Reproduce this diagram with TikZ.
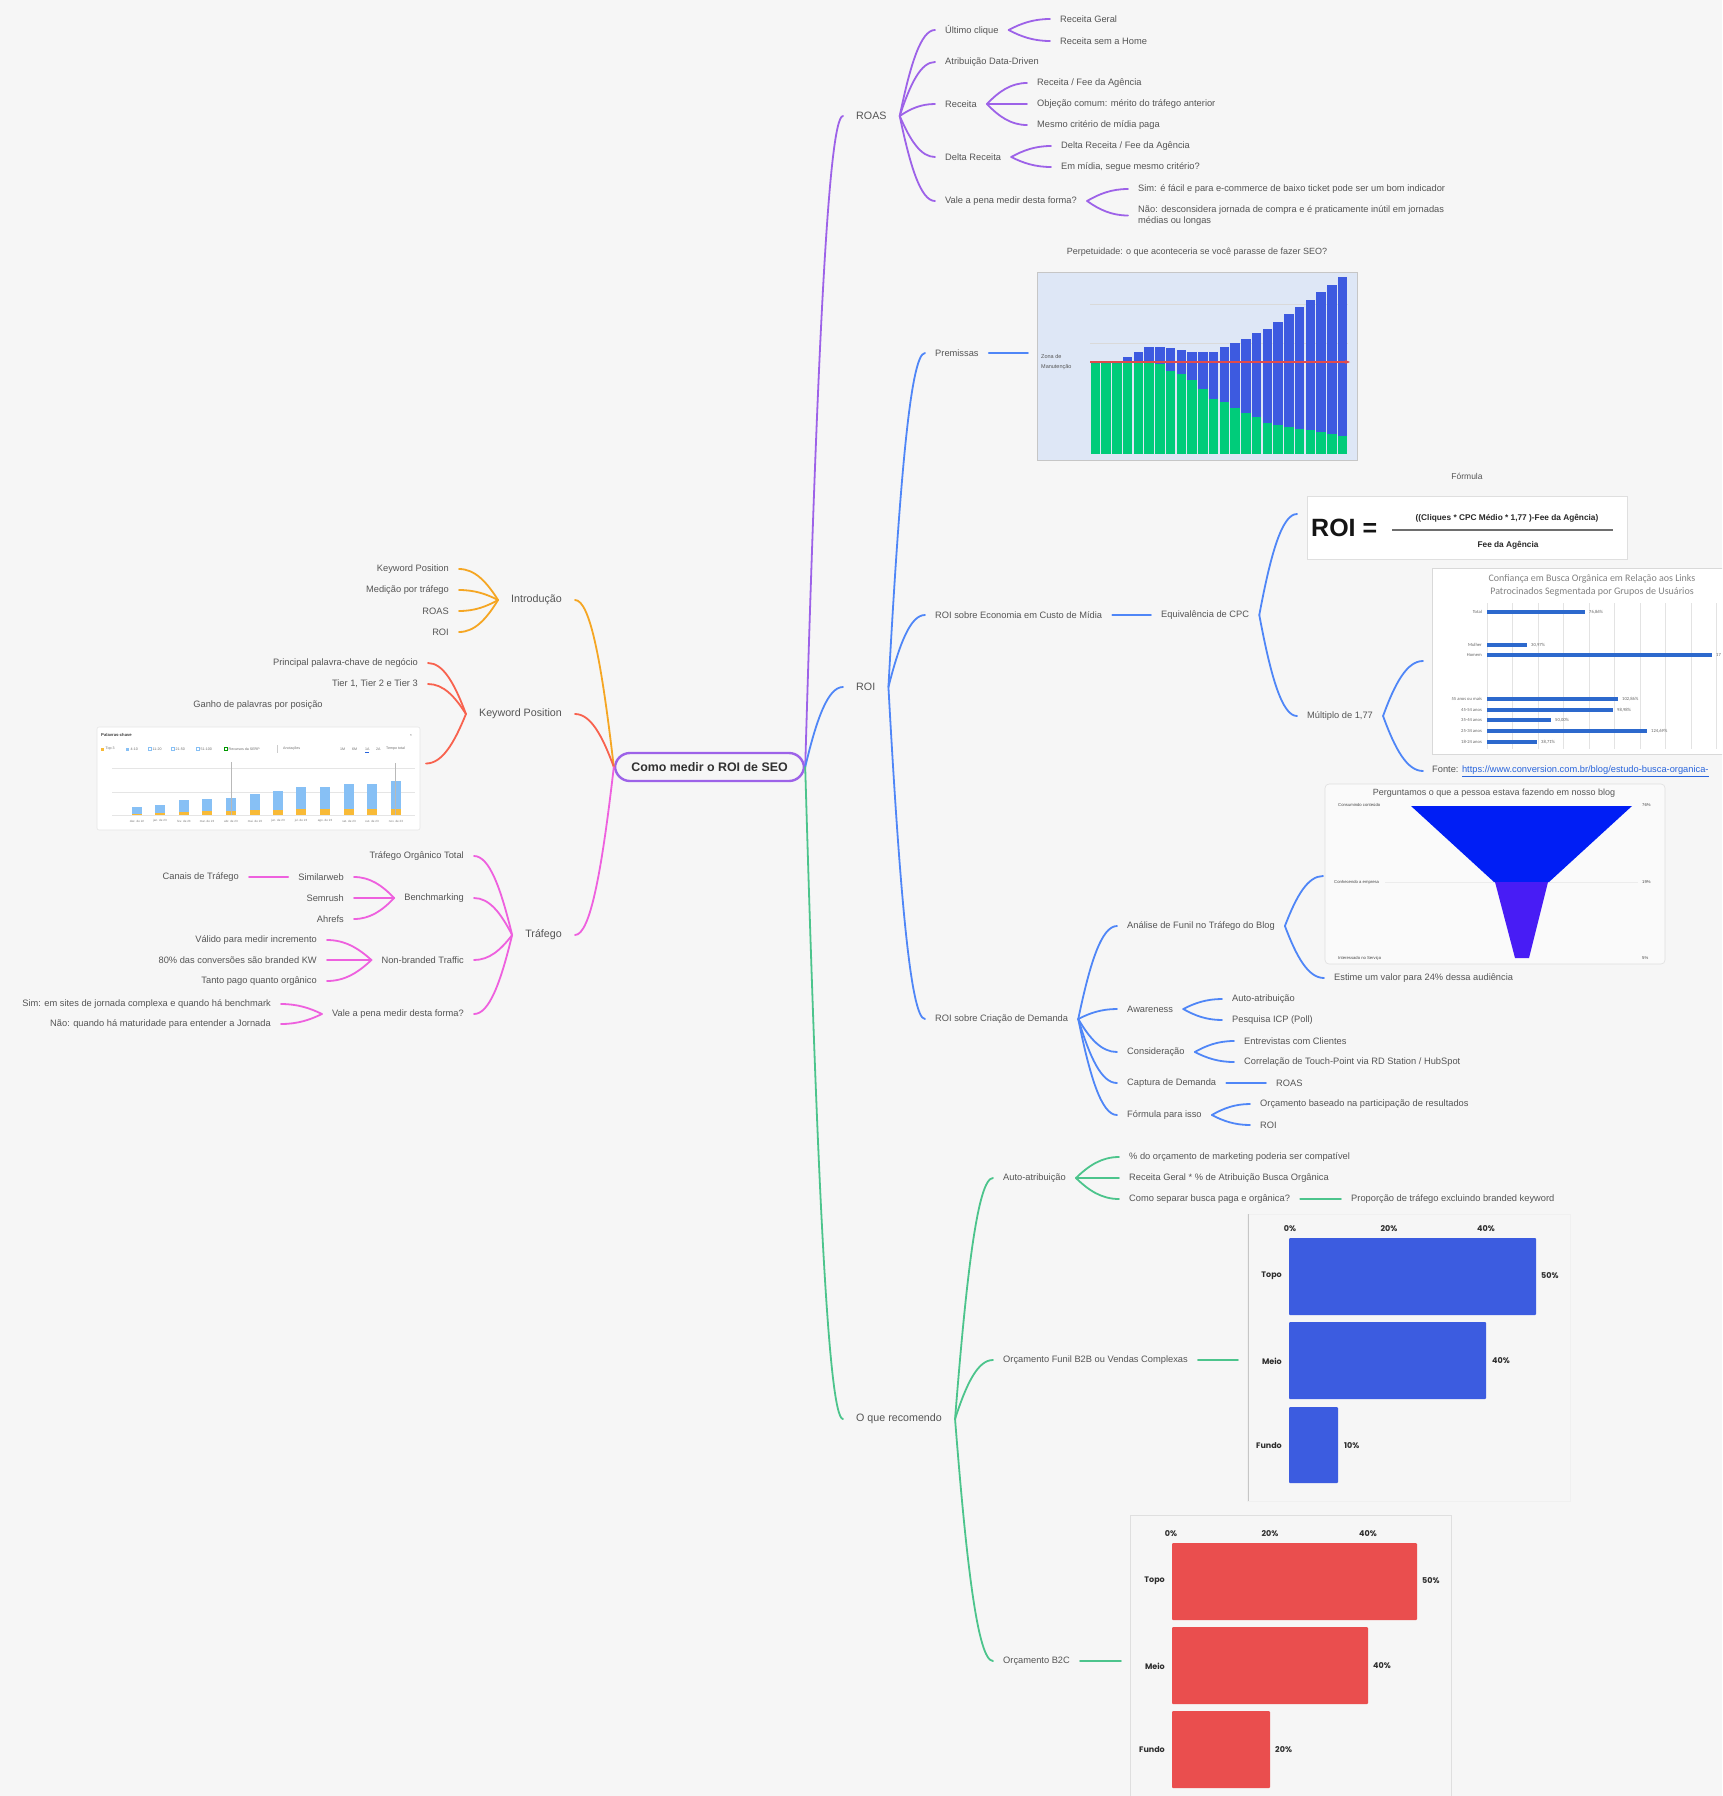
\documentclass[tikz,border=0pt]{standalone}
\usepackage{fontspec}
\setmainfont{Liberation Sans}
\newfontfamily\popfont{Poppins}
\newfontfamily\calfont{Carlito}
\usetikzlibrary{calc,arrows.meta}
\definecolor{bg}{RGB}{246,246,246}
\definecolor{txtc}{RGB}{85,85,85}
\definecolor{cpurple}{RGB}{157,98,232}
\definecolor{cblue}{RGB}{79,134,247}
\definecolor{cgreen}{RGB}{76,196,140}
\definecolor{corange}{RGB}{245,166,35}
\definecolor{cred}{RGB}{248,98,78}
\definecolor{cpink}{RGB}{238,96,222}
\definecolor{perpgreen}{RGB}{0,204,122}
\definecolor{perpblue}{RGB}{61,90,224}
\definecolor{perpbg}{RGB}{222,231,246}
\definecolor{confbarc}{RGB}{45,105,205}
\definecolor{funA}{RGB}{0,30,245}
\definecolor{funB}{RGB}{72,28,245}
\definecolor{bbar}{RGB}{60,92,224}
\definecolor{rbar}{RGB}{234,78,78}
\definecolor{kblue}{RGB}{135,192,245}
\definecolor{korange}{RGB}{248,186,55}
\definecolor{linkc}{RGB}{40,100,220}
\definecolor{g20}{RGB}{20,20,20}
\definecolor{g40}{RGB}{40,40,40}
\definecolor{g45}{RGB}{45,45,45}
\definecolor{g50}{RGB}{50,50,50}
\definecolor{g60}{RGB}{60,60,60}
\definecolor{g70}{RGB}{70,70,70}
\definecolor{g100}{RGB}{100,100,100}
\definecolor{g110}{RGB}{110,110,110}
\definecolor{g120}{RGB}{120,120,120}
\definecolor{g130}{RGB}{130,130,130}
\definecolor{g250}{RGB}{250,250,250}
\definecolor{redline}{RGB}{225,75,75}
\newcommand\mmlink[3]{\draw[#1] let \p1=(#2), \p2=(#3) in (\p1) .. controls ({\x1+0.3*(\x2-\x1)},{\y1+0.6*(\y2-\y1)}) and ({\x1+0.6*(\x2-\x1)},\y2) .. (\p2);}
\tikzset{
 mm/.style={font=\fontsize{9.3}{11}\selectfont, text=txtc, inner xsep=10pt, inner ysep=1.5pt},
 mmone/.style={font=\fontsize{10.7}{12}\selectfont, text=txtc, inner xsep=13pt, inner ysep=1.5pt},
 link/.style={line width=1.8pt, line cap=round},
 imgnode/.style={inner sep=0pt, outer ysep=0pt},
 chartlbl/.style={font=\popfont\bfseries\fontsize{8}{9}\selectfont, text=g45, inner sep=1pt},
 conflbl/.style={font=\calfont\fontsize{4.6}{5}\selectfont, text=g100, inner sep=0pt},
 tiny/.style={font=\fontsize{3.6}{4}\selectfont, text=g110, inner sep=0pt},
 funlbl/.style={font=\fontsize{4.2}{5}\selectfont, text=g70, inner sep=0pt},
}
\newcommand\confbar[5]{\fill[confbarc] (1487,#2-2) rectangle (#3,#2+2);
 \node[conflbl,anchor=east] (cl#5) at (1482,#2) {#1};
 \node[conflbl,anchor=west] (cv#5) at (#3+4,#2) {#4};}
\begin{document}
\begin{tikzpicture}[x=1pt,y=-1pt]
\useasboundingbox (0,0) rectangle (1722,1796);
\fill[bg] (0,0) rectangle (1722,1796);
\clip (0,0) rectangle (1722,1796);

% ---------------- root
\node[draw=cpurple, line width=2.4pt, rounded corners=15pt, minimum width=189pt, minimum height=28pt, fill=bg,
  font=\bfseries\fontsize{12.4}{14}\selectfont, text=g50, inner sep=0pt] (root) at (709.5,767) {Como medir o ROI de SEO};

% ---------------- ROAS branch
\node[mmone,anchor=west] (roas) at (843,116) {ROAS};
\node[mm,anchor=west] (ult) at (935,30) {Último clique};
\node[mm,anchor=west] (attr) at (935,62) {Atribuição Data-Driven};
\node[mm,anchor=west] (receita) at (935,104) {Receita};
\node[mm,anchor=west] (delta) at (935,157) {Delta Receita};
\node[mm,anchor=west] (vale) at (935,201) {Vale a pena medir desta forma?};
\node[mm,anchor=west] (ult1) at (1050,19) {Receita Geral};
\node[mm,anchor=west] (ult2) at (1050,41) {Receita sem a Home};
\node[mm,anchor=west] (rc1) at (1027,83) {Receita / Fee da Agência};
\node[mm,anchor=west] (rc2) at (1027,104) {Objeção comum: mérito do tráfego anterior};
\node[mm,anchor=west] (rc3) at (1027,125) {Mesmo critério de mídia paga};
\node[mm,anchor=west] (dr1) at (1051,146) {Delta Receita / Fee da Agência};
\node[mm,anchor=west] (dr2) at (1051,167) {Em mídia, segue mesmo critério?};
\node[mm,anchor=west] (v1) at (1128,189) {Sim: é fácil e para e-commerce de baixo ticket pode ser um bom indicador};
\node[mm,anchor=west,align=left] (v2) at (1128,215.5) {Não: desconsidera jornada de compra e é praticamente inútil em jornadas\\médias ou longas};

\mmlink{cpurple,link}{root.east}{roas.west}
\foreach \c in {ult,attr,receita,delta,vale} {\mmlink{cpurple,link}{roas.east}{\c.west}}
\foreach \c in {ult1,ult2} {\mmlink{cpurple,link}{ult.east}{\c.west}}
\foreach \c in {rc1,rc2,rc3} {\mmlink{cpurple,link}{receita.east}{\c.west}}
\foreach \c in {dr1,dr2} {\mmlink{cpurple,link}{delta.east}{\c.west}}
\foreach \c in {v1,v2} {\mmlink{cpurple,link}{vale.east}{\c.west}}

% ---------------- ROI branch
\node[mmone,anchor=west] (roi) at (843,687) {ROI};
\node[mm,anchor=west] (prem) at (925,353) {Premissas};
\node[mm,anchor=west] (econ) at (925,615) {ROI sobre Economia em Custo de Mídia};
\node[mm,anchor=west] (cria) at (925,1019) {ROI sobre Criação de Demanda};
\mmlink{cblue,link}{root.east}{roi.west}
\foreach \c in {prem,econ,cria} {\mmlink{cblue,link}{roi.east}{\c.west}}

% Premissas chart
\node[imgnode, minimum width=320pt, minimum height=216pt, outer xsep=9pt] (perp) at (1197,353) {};
\node[font=\fontsize{9}{11}\selectfont, text=txtc, inner sep=0pt] (perpt) at (1197,252) {Perpetuidade: o que aconteceria se você parasse de fazer SEO?};
\filldraw[fill=perpbg, draw=gray!45, line width=0.8pt] (1037,272) rectangle (1357,460);
\foreach \yy in {304,343} \draw[gray!30, line width=0.6pt] (1090,\yy) -- (1348,\yy);
\foreach \g/\t [count=\i from 0] in {362.7/362.7,362.7/362.7,362.7/362.7,362.7/357.3,362.7/352.3,362.7/346.7,364.3/346.7,370.7/348.3,374.3/350,380/352.3,389.3/352.3,399/352.3,402.3/346.7,407.7/342.7,413.3/339,417.3/333.3,423/329.3,424.7/322,426.7/314.3,428.7/307.3,430/300,432/292.3,433.7/285,436/277.3} {
  \pgfmathsetmacro\xa{1090+\i*10.75+0.6}
  \pgfmathsetmacro\xb{1090+(\i+1)*10.75-0.6}
  \fill[perpgreen] (\xa,\g) rectangle (\xb,454.3);
  \fill[perpblue] (\xa,\t) rectangle (\xb,\g);
}
\draw[redline, line width=1.4pt, -{Stealth[length=5pt,width=4pt]}] (1090,362) -- (1350,362);
\node[anchor=west, align=left, font=\fontsize{5.5}{10}\selectfont, text=txtc, inner sep=0pt] (zona) at (1041,362) {Zona de\\Manutenção};
\draw[cblue,link] (prem.east) -- (perp.west);

% Economia
\node[mm,anchor=west] (equiv) at (1151,615) {Equivalência de CPC};
\draw[cblue,link] (econ.east) -- (equiv.west);
\node[imgnode, minimum width=320pt, minimum height=90pt, outer xsep=10pt] (formula) at (1467,514) {};
\node[font=\fontsize{8.5}{10}\selectfont, text=txtc, inner sep=0pt] (formt) at (1467,476) {Fórmula};
\filldraw[fill=white, draw=gray!25, line width=0.6pt] (1307,496) rectangle (1627,559);
\node[anchor=west, font=\bfseries\fontsize{25}{28}\selectfont, text=g20, inner sep=0pt] (roieq) at (1311,528) {ROI =};
\node[font=\bfseries\fontsize{8.3}{10}\selectfont, text=g40, inner sep=0pt] (numer) at (1507,518) {((Cliques * CPC Médio * 1,77 )-Fee da Agência)};
\draw[g110, line width=1.8pt] (1392,530) -- (1613,530);
\node[font=\bfseries\fontsize{8.3}{10}\selectfont, text=g40, inner sep=0pt] (denom) at (1508,545) {Fee da Agência};
\node[mm,anchor=west] (mult) at (1297,716) {Múltiplo de 1,77};
\mmlink{cblue,link}{equiv.east}{formula.west}
\mmlink{cblue,link}{equiv.east}{mult.west}

% Confiança chart
\node[imgnode, minimum width=290pt, minimum height=186pt, outer xsep=9pt] (conf) at (1577,661) {};
\filldraw[fill=white, draw=gray!30, line width=0.6pt] (1432,568) rectangle (1740,754);
\node[font=\calfont\fontsize{10}{12.5}\selectfont, text=g130, align=center, inner sep=0pt] (conft) at (1592,585.5) {Confiança em Busca Orgânica em Relação aos Links\\Patrocinados Segmentada por Grupos de Usuários};
\foreach \k in {0,...,9} \draw[gray!22, line width=0.5pt] (1487+\k*25.5,603) -- (1487+\k*25.5,749);
\confbar{Total}{612}{1585}{76,86\%}{1}
\confbar{Mulher}{645}{1527}{30,97\%}{2}
\confbar{Homem}{655}{1712}{17}{3}
\confbar{55 anos ou mais}{699}{1618}{102,86\%}{4}
\confbar{45-54 anos}{710}{1613}{98,98\%}{5}
\confbar{35-44 anos}{720}{1551}{50,00\%}{6}
\confbar{25-34 anos}{731}{1647}{124,69\%}{7}
\confbar{18-24 anos}{742}{1537}{38,71\%}{8}
\node[mm,anchor=west,inner xsep=9pt] (fonte) at (1423,771) {Fonte: \textcolor{linkc}{\underline{https://www.conversion.com.br/blog/estudo-busca-organica-}}};
\mmlink{cblue,link}{mult.east}{conf.west}
\mmlink{cblue,link}{mult.east}{fonte.west}

% Criação de demanda
\node[mm,anchor=west] (funil) at (1117,926) {Análise de Funil no Tráfego do Blog};
\node[mm,anchor=west] (aware) at (1117,1009) {Awareness};
\node[mm,anchor=west] (consid) at (1117,1052) {Consideração};
\node[mm,anchor=west] (capt) at (1117,1083) {Captura de Demanda};
\node[mm,anchor=west] (formisso) at (1117,1115) {Fórmula para isso};
\foreach \c in {funil,aware,consid,capt,formisso} {\mmlink{cblue,link}{cria.east}{\c.west}}
\node[mm,anchor=west] (aw1) at (1222,999) {Auto-atribuição};
\node[mm,anchor=west] (aw2) at (1222,1020) {Pesquisa ICP (Poll)};
\node[mm,anchor=west] (co1) at (1234,1041) {Entrevistas com Clientes};
\node[mm,anchor=west] (co2) at (1234,1062) {Correlação de Touch-Point via RD Station / HubSpot};
\node[mm,anchor=west] (captroas) at (1266,1083) {ROAS};
\node[mm,anchor=west] (fo1) at (1250,1104) {Orçamento baseado na participação de resultados};
\node[mm,anchor=west] (fo2) at (1250,1125) {ROI};
\foreach \c in {aw1,aw2} {\mmlink{cblue,link}{aware.east}{\c.west}}
\foreach \c in {co1,co2} {\mmlink{cblue,link}{consid.east}{\c.west}}
\draw[cblue,link] (capt.east) -- (captroas.west);
\foreach \c in {fo1,fo2} {\mmlink{cblue,link}{formisso.east}{\c.west}}

% Funnel
\node[imgnode, minimum width=340pt, minimum height=184pt, outer xsep=2pt] (funnel) at (1495,876) {};
\filldraw[fill=g250, draw=gray!25, line width=0.6pt, rounded corners=4pt] (1325,784) rectangle (1665,964);
\node[font=\fontsize{9}{11}\selectfont, text=txtc, inner sep=0pt] (funt) at (1494,793) {Perguntamos o que a pessoa estava fazendo em nosso blog};
\draw[gray!15, line width=0.5pt] (1385,882) -- (1638,882);
\fill[funA] (1411,806) -- (1632,806) -- (1549,882) -- (1494,882) -- cycle;
\fill[funB] (1495,882) -- (1548,882) -- (1529,958) -- (1515,958) -- cycle;
\node[funlbl,anchor=west] (fl1) at (1338,805) {Consumindo conteúdo};
\node[funlbl,anchor=west] (fl2) at (1334,882) {Conhecendo a empresa};
\node[funlbl,anchor=west] (fl3) at (1338,958) {Interessado no Serviço};
\node[funlbl,anchor=west] (fr1) at (1642,805) {76\%};
\node[funlbl,anchor=west] (fr2) at (1642,882) {19\%};
\node[funlbl,anchor=west] (fr3) at (1642,958) {5\%};
\node[mm,anchor=west] (estime) at (1324,978) {Estime um valor para 24\% dessa audiência};
\mmlink{cblue,link}{funil.east}{funnel.west}
\mmlink{cblue,link}{funil.east}{estime.west}

% ---------------- O que recomendo branch
\node[mmone,anchor=west] (rec) at (843,1419) {O que recomendo};
\node[mm,anchor=west] (auto) at (993,1178) {Auto-atribuição};
\node[mm,anchor=west] (b2b) at (993,1360) {Orçamento Funil B2B ou Vendas Complexas};
\node[mm,anchor=west] (b2c) at (993,1661) {Orçamento B2C};
\mmlink{cgreen,link}{root.east}{rec.west}
\foreach \c in {auto,b2b,b2c} {\mmlink{cgreen,link}{rec.east}{\c.west}}
\node[mm,anchor=west] (au1) at (1119,1157) {\% do orçamento de marketing poderia ser compatível};
\node[mm,anchor=west] (au2) at (1119,1178) {Receita Geral * \% de Atribuição Busca Orgânica};
\node[mm,anchor=west] (au3) at (1119,1199) {Como separar busca paga e orgânica?};
\node[mm,anchor=west] (au4) at (1341,1199) {Proporção de tráfego excluindo branded keyword};
\foreach \c in {au1,au2,au3} {\mmlink{cgreen,link}{auto.east}{\c.west}}
\draw[cgreen,link] (au3.east) -- (au4.west);

% blue chart
\node[imgnode, minimum width=323pt, minimum height=292pt, outer xsep=9pt] (bchart) at (1408.5,1360) {};
\draw[gray!12, line width=0.6pt] (1247,1214) rectangle (1570,1501);
\draw[gray!45, line width=0.7pt] (1248,1214) -- (1248,1501);
\node[chartlbl] (bx0) at (1290,1229) {0\%};
\node[chartlbl] (bx1) at (1389,1229) {20\%};
\node[chartlbl] (bx2) at (1486,1229) {40\%};
\fill[bbar, rounded corners=1pt] (1289,1238) rectangle (1536,1315);
\fill[bbar, rounded corners=1pt] (1289,1322) rectangle (1486,1399);
\fill[bbar, rounded corners=1pt] (1289,1407) rectangle (1338,1483);
\node[chartlbl,anchor=east] (bl1) at (1283,1276) {Topo};
\node[chartlbl,anchor=east] (bl2) at (1283,1361) {Meio};
\node[chartlbl,anchor=east] (bl3) at (1283,1446) {Fundo};
\node[chartlbl,anchor=west] (bv1) at (1540,1276) {50\%};
\node[chartlbl,anchor=west] (bv2) at (1491,1361) {40\%};
\node[chartlbl,anchor=west] (bv3) at (1343,1446) {10\%};
\draw[cgreen,link] (b2b.east) -- (bchart.west);

% red chart
\node[imgnode, minimum width=321pt, minimum height=292pt, outer xsep=9pt] (rchart) at (1290.5,1661) {};
\draw[gray!25, line width=0.6pt] (1130,1515) rectangle (1451,1810);
\node[chartlbl] (rx0) at (1171,1534) {0\%};
\node[chartlbl] (rx1) at (1270,1534) {20\%};
\node[chartlbl] (rx2) at (1368,1534) {40\%};
\fill[rbar, rounded corners=1pt] (1172,1543) rectangle (1417,1620);
\fill[rbar, rounded corners=1pt] (1172,1627) rectangle (1368,1704);
\fill[rbar, rounded corners=1pt] (1172,1711) rectangle (1270,1788);
\node[chartlbl,anchor=east] (rl1) at (1166,1581) {Topo};
\node[chartlbl,anchor=east] (rl2) at (1166,1666) {Meio};
\node[chartlbl,anchor=east] (rl3) at (1166,1750) {Fundo};
\node[chartlbl,anchor=west] (rv1) at (1421,1581) {50\%};
\node[chartlbl,anchor=west] (rv2) at (1372,1666) {40\%};
\node[chartlbl,anchor=west] (rv3) at (1274,1750) {20\%};
\draw[cgreen,link] (b2c.east) -- (rchart.west);

% ---------------- Left side
\node[mmone,anchor=east] (intro) at (575,600) {Introdução};
\node[mmone,anchor=east] (kp) at (575,714) {Keyword Position};
\node[mmone,anchor=east] (traf) at (575,935) {Tráfego};
\mmlink{corange,link}{root.west}{intro.east}
\mmlink{cred,link}{root.west}{kp.east}
\mmlink{cpink,link}{root.west}{traf.east}

\node[mm,anchor=east] (in1) at (459,569) {Keyword Position};
\node[mm,anchor=east] (in2) at (459,590) {Medição por tráfego};
\node[mm,anchor=east] (in3) at (459,611) {ROAS};
\node[mm,anchor=east] (in4) at (459,632) {ROI};
\foreach \c in {in1,in2,in3,in4} {\mmlink{corange,link}{intro.west}{\c.east}}

\node[mm,anchor=east] (kp1) at (428,663) {Principal palavra-chave de negócio};
\node[mm,anchor=east] (kp2) at (428,684) {Tier 1, Tier 2 e Tier 3};
\node[imgnode, minimum width=323pt, minimum height=133pt, outer xsep=6pt] (kpchart) at (258.5,763.5) {};
\node[font=\fontsize{9.3}{11}\selectfont, text=txtc, inner sep=0pt] (kpt) at (258,705) {Ganho de palavras por posição};
\filldraw[fill=white, draw=gray!20, line width=0.6pt, rounded corners=2pt] (97,727) rectangle (420,830);
\node[font=\bfseries\fontsize{4.2}{5}\selectfont, text=g60, anchor=west, inner sep=0pt] (kpc) at (101,735) {Palavras-chave};
\node[tiny] (kpx) at (411,735) {×};
\fill[korange] (101,747.5) rectangle (104,750.5); \node[tiny,anchor=west] (lg1) at (105.5,749) {Top 3};
\fill[kblue] (126,747.5) rectangle (129,750.5); \node[tiny,anchor=west] (lg2) at (130.5,749) {4-10};
\draw[kblue,line width=0.4pt] (148,747.5) rectangle (151,750.5); \node[tiny,anchor=west] (lg3) at (152.5,749) {11-20};
\draw[kblue,line width=0.4pt] (171,747.5) rectangle (174,750.5); \node[tiny,anchor=west] (lg4) at (175.5,749) {21-50};
\draw[kblue,line width=0.4pt] (196,747.5) rectangle (199,750.5); \node[tiny,anchor=west] (lg5) at (200.5,749) {51-100};
\draw[green!60!black,line width=0.4pt] (224,747.5) rectangle (227,750.5); \node[tiny,anchor=west] (lg6) at (228.5,749) {Recursos da SERP};
\draw[gray!40, line width=0.4pt] (277,745) -- (277,753);
\node[tiny,anchor=west] (lg7) at (283,749) {Anotações};
\node[tiny,anchor=west] (lg8) at (340,749) {1M};
\node[tiny,anchor=west] (lg9) at (352,749) {6M};
\node[tiny,anchor=west] (lg10) at (365,749) {1A};
\draw[linkc, line width=0.5pt] (365,752.5) -- (369,752.5);
\node[tiny,anchor=west] (lg11) at (376,749) {2A};
\node[tiny,anchor=west] (lg12) at (386,749) {Tempo total};
\foreach \yy in {768,792,815} \draw[gray!20, line width=0.4pt] (112,\yy) -- (415,\yy);
\foreach \xx/\bt/\ot/\mo [count=\i] in {137/807/813.7/dez. de 22, 160/804.7/813.3/jan. de 23, 184/800.3/812/fev. de 23, 207/799.3/811.3/mar. de 23, 231/797.7/811.3/abr. de 23, 255/794/810.3/mai. de 23, 278/791.3/809.7/jun. de 23, 301/787.3/808.7/jul. de 23, 325/787/808.7/ago. de 23, 349/784.3/808.7/set. de 23, 372/784/808.7/out. de 23, 396/781/808.7/nov. de 23} {
  \fill[kblue] (\xx-5,\bt) rectangle (\xx+5,\ot);
  \fill[korange] (\xx-5,\ot) rectangle (\xx+5,815);
  \node[font=\fontsize{3}{3.5}\selectfont, text=g120, inner sep=0pt] (mo\i) at (\xx,821) {\mo};
}
\draw[gray!55, line width=0.5pt] (231,762) -- (231,815);
\draw[gray!55, line width=0.5pt] (395,763) -- (395,815);
\foreach \c in {kp1,kp2,kpchart} {\mmlink{cred,link}{kp.west}{\c.east}}

\node[mm,anchor=east] (tr1) at (474,856) {Tráfego Orgânico Total};
\node[mm,anchor=east] (bench) at (474,898) {Benchmarking};
\node[mm,anchor=east] (nonb) at (474,960) {Non-branded Traffic};
\node[mm,anchor=east] (tvale) at (474,1014) {Vale a pena medir desta forma?};
\foreach \c in {tr1,bench,nonb,tvale} {\mmlink{cpink,link}{traf.west}{\c.east}}
\node[mm,anchor=east] (b1) at (354,877) {Similarweb};
\node[mm,anchor=east] (b2) at (354,898) {Semrush};
\node[mm,anchor=east] (b3) at (354,919) {Ahrefs};
\node[mm,anchor=east] (canais) at (249,877) {Canais de Tráfego};
\foreach \c in {b1,b2,b3} {\mmlink{cpink,link}{bench.west}{\c.east}}
\draw[cpink,link] (b1.west) -- (canais.east);
\node[mm,anchor=east] (n1) at (327,940) {Válido para medir incremento};
\node[mm,anchor=east] (n2) at (327,960) {80\% das conversões são branded KW};
\node[mm,anchor=east] (n3) at (327,981) {Tanto pago quanto orgânico};
\foreach \c in {n1,n2,n3} {\mmlink{cpink,link}{nonb.west}{\c.east}}
\node[mm,anchor=east] (t1) at (281,1004) {Sim: em sites de jornada complexa e quando há benchmark};
\node[mm,anchor=east] (t2) at (281,1024) {Não: quando há maturidade para entender a Jornada};
\foreach \c in {t1,t2} {\mmlink{cpink,link}{tvale.west}{\c.east}}
\end{tikzpicture}
\end{document}
